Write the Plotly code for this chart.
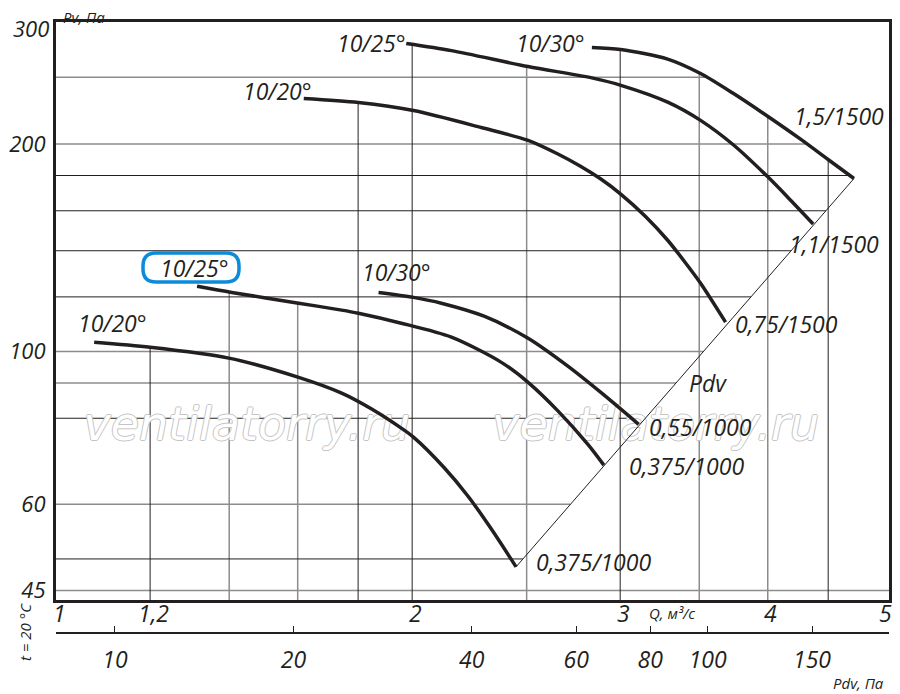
import numpy as np
import plotly.graph_objects as go

# fan curves: Q, m3/s against Pv, Pa
# lower group, 1000 rpm
q_1000_20 = [1.076, 1.2, 1.399, 1.603, 1.743, 1.848, 1.958, 2.005, 2.129, 2.231, 2.333, 2.449]
pv_1000_20 = [103.1, 101.4, 97.8, 91.7, 87.0, 82.5, 77.4, 75.1, 67.8, 61.6, 55.3, 48.7]
q_1000_25 = [1.315, 1.407, 1.603, 1.743, 1.801, 1.958, 2.159, 2.378, 2.507, 2.657, 2.817, 2.906]
pv_1000_25 = [124.3, 121.8, 117.5, 114.8, 113.6, 109.9, 104.9, 96.5, 90.2, 82.0, 73.3, 68.4]
q_1000_30 = [1.873, 2.005, 2.117, 2.301, 2.507, 2.709, 2.889, 3.11]
pv_1000_30 = [121.8, 119.8, 117.5, 112.5, 104.5, 95.2, 87.2, 78.4]
# upper group, 1500 rpm
q_1500_20 = [1.619, 1.801, 2.005, 2.288, 2.507, 2.657, 2.779, 2.889, 3.003, 3.152, 3.291, 3.408, 3.509, 3.684]
pv_1500_20 = [232.8, 229.7, 223.6, 211.3, 202.4, 193.4, 185.5, 177.9, 169.2, 157.0, 145.0, 134.4, 125.6, 110.3]
q_1500_25 = [1.977, 2.159, 2.507, 2.833, 3.009, 3.291, 3.509, 3.742, 3.996, 4.155, 4.37]
pv_1500_25 = [279.7, 273.2, 259.0, 249.6, 243.1, 230.0, 216.4, 199.3, 179.5, 167.7, 153.1]
q_1500_30 = [2.839, 3.003, 3.291, 3.509, 3.742, 3.996, 4.261, 4.499, 4.732]
pv_1500_30 = [276.0, 274.2, 265.6, 253.1, 236.7, 219.6, 203.4, 189.9, 178.2]

# dynamic pressure line (Pdv) through the curve ends
pdv_line_q = [2.449, 4.732]
pdv_line_pv = [48.7, 178.2]

blade_labels = ["10/20°", "10/25°", "10/30°", "10/20°", "10/25°", "10/30°"]
motor_labels = ["0,375/1000", "0,375/1000", "0,55/1000", "0,75/1500", "1,1/1500", "1,5/1500"]

q_ticks = [1, 1.2, 2, 3, 4, 5]
q_ticktext = ["1", "1,2", "2", "3", "4", "5"]
pv_ticks = [45, 60, 100, 200]
pv_top = 300
pdv_ticks = [10, 20, 40, 60, 80, 100, 150]

q_grid_dark = [1.2, 1.8, 2, 3, 4.5]
q_grid_grey = [1.4, 1.6, 2.5, 3.5, 4]
pv_grid_dark = [50, 80, 120, 140, 160, 180]
pv_grid_grey = [45, 60, 90, 100, 200, 250]

ink = "#231f20"
FONT = "Open Sans"
Q_RANGE = [-0.0005, 0.7047]
PV_RANGE = [1.6394, 2.478]

curves = [
    (q_1000_20, pv_1000_20), (q_1000_25, pv_1000_25), (q_1000_30, pv_1000_30),
    (q_1500_20, pv_1500_20), (q_1500_25, pv_1500_25), (q_1500_30, pv_1500_30),
]


# %% grid lines stop at the outer curves, like on the original drawing
def top_at(g):
    tops = [10 ** np.interp(np.log10(g), np.log10(q), np.log10(pv))
            for q, pv in curves if q[0] <= g <= q[-1]]
    return max(tops)


def right_at(h):
    ends = []
    for q, pv in curves + [(pdv_line_q, pdv_line_pv)]:
        if min(pv) <= h <= max(pv):
            lq, lp = np.log10(q), np.log10(pv)
            order = np.argsort(lp)
            ends.append(10 ** np.interp(np.log10(h), lp[order], lq[order]))
    return max(ends) if ends else 10 ** Q_RANGE[1]


def grid_trace(qs, pvs, color, width):
    xs, ys = [], []
    for g in qs:
        xs += [g, g, None]
        ys += [top_at(g), 10 ** PV_RANGE[0], None]
    for h in pvs:
        xs += [10 ** Q_RANGE[0], right_at(h), None]
        ys += [h, h, None]
    return go.Scatter(x=xs, y=ys, mode="lines", line=dict(color=color, width=width),
                      hoverinfo="skip", showlegend=False)


fig = go.Figure()
fig.add_trace(grid_trace(q_grid_grey, pv_grid_grey, "#8c8c8c", 1.5))
fig.add_trace(grid_trace(q_grid_dark, pv_grid_dark, ink, 1))

# watermark
fig.add_trace(go.Scatter(
    x=[1.449, 3.215], y=[77.4, 77.4], mode="text", text=["ventilatorry.ru"] * 2,
    textfont=dict(family="DejaVu Sans", size=46, color="white", style="italic",
                  shadow="1px 0 #c4c4c4, -1px 0 #c4c4c4, 0 1px #c4c4c4, 0 -1px #c4c4c4"),
    hoverinfo="skip", showlegend=False))

fig.add_trace(go.Scatter(x=pdv_line_q, y=pdv_line_pv, mode="lines",
                         line=dict(color=ink, width=1), hoverinfo="skip", showlegend=False))
for q, pv in curves:
    fig.add_trace(go.Scatter(x=q, y=pv, mode="lines",
                             line=dict(color=ink, width=3.5, shape="spline", smoothing=0.8),
                             showlegend=False))

# invisible trace so the Pdv scale gets drawn
fig.add_trace(go.Scatter(x=pdv_ticks, y=[100] * len(pdv_ticks), xaxis="x2", mode="markers",
                         marker=dict(opacity=0), hoverinfo="skip", showlegend=False))

lab_font = dict(family=FONT, size=23, color=ink, style="italic")
tick_font = dict(family=FONT, size=22, color=ink, style="italic")
small_font = dict(family=FONT, size=15, color=ink, style="italic")

# label offsets (pixels) from curve start / curve end
start_shift = [(18, 19), (-3, 18), (18, 20), (-26, 8), (-35, 1), (-41, 5)]
end_shift = [(77, 5), (83, -1), (62, -3), (61, -2), (21, -20), (-15, 63)]

ann = []
for (q, pv), txt, (dx, dy) in zip(curves, blade_labels, start_shift):
    ann.append(dict(x=np.log10(q[0]), y=np.log10(pv[0]), text=txt, showarrow=False,
                    xanchor="center", yanchor="middle", xshift=dx, yshift=dy, font=lab_font))
for (q, pv), txt, (dx, dy) in zip(curves, motor_labels, end_shift):
    ann.append(dict(x=np.log10(q[-1]), y=np.log10(pv[-1]), text=txt, showarrow=False,
                    xanchor="center", yanchor="middle", xshift=dx, yshift=dy, font=lab_font))


# page pixel -> paper position (the page body adds an 8 px margin)
def px(x):
    return (x - 56) / 833


def py(y):
    return (650 - y) / 628


# Q tick labels sit close under the frame
for v, t in zip(q_ticks, q_ticktext):
    ann.append(dict(x=np.log10(v), y=py(613), yref="paper", text=t, showarrow=False,
                    xanchor="center", yanchor="middle", xshift=3, font=lab_font))

# top Pv label nudged down so it stays inside the page
ann.append(dict(x=0, xref="paper", y=np.log10(pv_top), text=str(pv_top), showarrow=False,
                xanchor="right", yanchor="middle", xshift=-5, yshift=-5, font=tick_font))


def note(x, y, text, font, **kw):
    return dict(x=px(x), y=py(y), xref="paper", yref="paper", text=text, showarrow=False,
                xanchor="center", yanchor="middle", font=font, **kw)


ann += [
    note(708, 383, "Pdv", lab_font),
    note(84, 17, "Pv, Па", small_font),
    note(672, 613, "Q, м³/с", small_font),
    note(858, 683, "Pdv, Па", small_font),
    note(25, 632, "t = 20 °C", small_font, textangle=-90),
]

# rounded blue frame round the lower 10/25° label
x0, x1, y0, y1, r = 143, 239, 253, 282, 13
path = (f"M {px(x0 + r)},{py(y0)} L {px(x1 - r)},{py(y0)} Q {px(x1)},{py(y0)} {px(x1)},{py(y0 + r)} "
        f"L {px(x1)},{py(y1 - r)} Q {px(x1)},{py(y1)} {px(x1 - r)},{py(y1)} "
        f"L {px(x0 + r)},{py(y1)} Q {px(x0)},{py(y1)} {px(x0)},{py(y1 - r)} "
        f"L {px(x0)},{py(y0 + r)} Q {px(x0)},{py(y0)} {px(x0 + r)},{py(y0)} Z")

fig.update_layout(
    width=892, height=686,
    margin=dict(l=48, r=11, t=14, b=44),
    paper_bgcolor="white", plot_bgcolor="white",
    showlegend=False, hovermode=False,
    annotations=ann,
    shapes=[dict(type="path", path=path, xref="paper", yref="paper",
                 line=dict(color="#0b8bd9", width=3.5))],
    xaxis=dict(type="log", range=Q_RANGE, showgrid=False, zeroline=False, automargin=False,
               showline=True, linewidth=3, linecolor=ink, mirror=True,
               showticklabels=False, ticks=""),
    yaxis=dict(type="log", range=PV_RANGE, domain=[50 / 628, 1], showgrid=False, zeroline=False,
               automargin=False, showline=True, linewidth=3, linecolor=ink, mirror=True,
               tickvals=pv_ticks, ticktext=[str(v) for v in pv_ticks], ticks="", tickfont=tick_font,
               ticklabelstandoff=3, ticklabeloverflow="allow"),
    xaxis2=dict(type="log", overlaying="x", anchor="free", position=17 / 628, side="bottom",
                range=[0.9005, 2.306], showgrid=False, zeroline=False, automargin=False,
                showline=True, linewidth=2, linecolor=ink,
                ticks="inside", ticklen=6, tickwidth=1, tickcolor=ink,
                tickvals=pdv_ticks, ticktext=[str(v) for v in pdv_ticks], tickfont=lab_font,
                ticklabelstandoff=6),
)

fig.write_html("out.html")
